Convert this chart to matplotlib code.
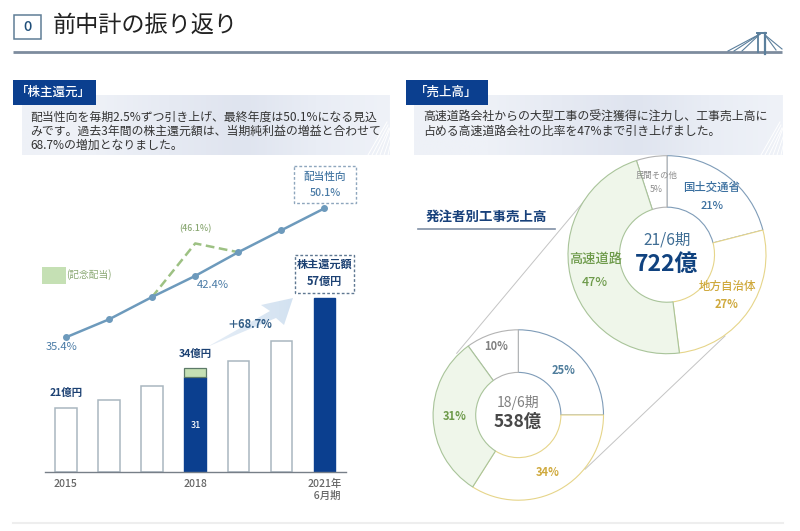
import numpy as np
import matplotlib
matplotlib.use("Agg")
import matplotlib.pyplot as plt
from matplotlib.patches import Rectangle, Polygon
from matplotlib.colors import LinearSegmentedColormap

plt.rcParams['font.family'] = ['Noto Sans CJK JP', 'DejaVu Sans']

# ---- data ----
positions = [0, 1, 2, 3, 4, 5, 6]
tick_pos = [0, 3, 6]
tick_labels = ['2015', '2018', '2021年\n  6月期']
returns_total = [21, 23.4, 28, 34, 36.4, 42.8, 57]
highlight = [False, False, False, True, False, False, True]
base_2018 = 31
special_2018 = 3
payout = [35.4, 37.45, 40.0, 42.4, 45.1, 47.6, 50.1]
special_x = [2, 3, 4]
special_payout = [40.0, 46.1, 45.1]

donut21_values = [21, 27, 47, 5]
donut18_values = [25, 34, 31, 10]

BLUE = '#0b3f8f'
W, H = 800, 531
fig = plt.figure(figsize=(8, 5.31), dpi=100, facecolor='white')


def rect_px(x0, y0, x1, y1):
    return [x0 / W, 1 - y1 / H, (x1 - x0) / W, (y1 - y0) / H]


def overlay(z):
    a = fig.add_axes([0, 0, 1, 1], zorder=z)
    a.set_xlim(0, W)
    a.set_ylim(H, 0)
    a.axis('off')
    a.patch.set_alpha(0)
    return a


bg = overlay(0)
fg = overlay(5)

# ---- header ----
bg.add_patch(Rectangle((14, 15), 27, 24, fc='white', ec='#5f7d96', lw=1.1))
fg.text(27.5, 27, '0', ha='center', va='center', fontsize=10.5, fontweight='medium', color='#1f4e79')
fg.text(53, 25.5, '前中計の振り返り', ha='left', va='center', fontsize=16.7, color='#222222')
bg.plot([13, 782], [52, 52], color='#7d8c9e', lw=2, solid_capstyle='butt')

# bridge icon
bridge = '#5b7f9c'
bg.plot([758, 758], [33, 52], color=bridge, lw=1.3)
bg.plot([765, 765], [33, 54], color=bridge, lw=1.6)
bg.plot([757, 766], [33, 33], color=bridge, lw=1.4)
for x0, y0 in [(728, 51), (734, 51), (742, 51)]:
    bg.plot([x0, 760], [y0, 34], color=bridge, lw=0.8)
for x0, y0 in [(782, 49), (776, 50)]:
    bg.plot([x0, 765], [y0, 35], color=bridge, lw=0.8)

# ---- text panels ----
panel_cmap = LinearSegmentedColormap.from_list(
    'p', ['#eef1f7', '#eef1f7', '#e6eaf3', '#dfe4ef', '#e9edf5', '#eff2f8'])
for x0, x1 in [(22, 390), (414, 783)]:
    grad = np.linspace(0, 1, 256)[None, :]
    bg.imshow(grad, extent=(x0, x1, 155, 95), cmap=panel_cmap, aspect='auto', zorder=1)
    for k in range(6):
        bg.plot([x1 - 22 + k * 4, x1 - 3 + k * 1.0 if k < 3 else x1],
                [155, 122 + k * 3 if k < 3 else 128 + (k - 3) * 9], color='white', lw=0.7, zorder=2)
bg.set_xlim(0, W)
bg.set_ylim(H, 0)

for x0, x1, label in [(13, 96, '「株主還元」'), (406, 488, '「売上高」')]:
    bg.add_patch(Rectangle((x0, 79.5), x1 - x0, 25, fc=BLUE, ec='none', zorder=3))
    fg.text((x0 + x1) / 2 - 1, 92, label, ha='center', va='center', fontsize=9, fontweight='medium', color='white')

left_lines = ['配当性向を毎期2.5%ずつ引き上げ、最終年度は50.1%になる見込',
              'みです。過去3年間の株主還元額は、当期純利益の増益と合わせて',
              '68.7%の増加となりました。']
right_lines = ['高速道路会社からの大型工事の受注獲得に注力し、工事売上高に',
               '占める高速道路会社の比率を47%まで引き上げました。']
for i, t in enumerate(left_lines):
    fg.text(30, 117.5 + i * 14, t, ha='left', va='center', fontsize=8.55, color='#333333')
for i, t in enumerate(right_lines):
    fg.text(423, 117.5 + i * 14, t, ha='left', va='center', fontsize=8.6, color='#333333')

# ---- bars ----
ax_bar = fig.add_axes(rect_px(45, 200, 346, 472), zorder=2)
ax_bar.patch.set_alpha(0)
ax_bar.set_xlim(-0.487, 6.5)
ax_bar.set_ylim(0, 88.9)
bw = 0.5
for p, v, h in zip(positions, returns_total, highlight):
    if not h:
        ax_bar.bar(p, v, width=bw, fc='white', ec='#a9b7c0', lw=1.1, zorder=2)
ax_bar.bar(3, base_2018, width=bw, fc=BLUE, ec='#0b3f8f', lw=1, zorder=2)
ax_bar.bar(3, special_2018, bottom=base_2018, width=bw, fc='#c5e0b4', ec='#5d7a68', lw=0.9, zorder=2)
ax_bar.bar(6, returns_total[6], width=bw, fc=BLUE, ec='#0b3f8f', lw=1, zorder=2)
for s in ['top', 'left', 'right']:
    ax_bar.spines[s].set_visible(False)
ax_bar.spines['bottom'].set_color('#777f88')
ax_bar.spines['bottom'].set_linewidth(1.0)
ax_bar.set_yticks([])
ax_bar.set_xticks(tick_pos)
ax_bar.set_xticklabels(tick_labels, fontsize=7.5, fontweight='medium', color='#666666', linespacing=1.15)
ax_bar.tick_params(axis='x', length=0, pad=5)

# ---- line ----
ax_line = fig.add_axes(rect_px(45, 200, 346, 472), zorder=3)
ax_line.patch.set_alpha(0)
ax_line.set_xlim(-0.487, 6.5)
ax_line.set_ylim(20.05, 51.05)
ax_line.axis('off')
ax_line.plot(special_x, special_payout, color='#9dc183', lw=1.8, ls=(0, (3.5, 1.8)), zorder=2)
ax_line.plot(positions, payout, color='#6d9abc', lw=1.8, marker='o', ms=4, mfc='#6d9abc', mec='#6d9abc', zorder=3)

# ---- growth arrow ----
arrow_cmap = LinearSegmentedColormap.from_list('a', ['#e6eef7', '#d3e2f1'])
poly = Polygon([(207, 347), (270, 311), (261, 305), (293, 298), (284, 325), (276, 318)],
               closed=True, fc='none', ec='none', transform=bg.transData)
bg.add_patch(poly)
aim = bg.imshow(np.linspace(0, 1, 256)[None, :], extent=(207, 293, 347, 298), cmap=arrow_cmap,
                aspect='auto', zorder=3)
aim.set_clip_path(poly)
bg.set_xlim(0, W)
bg.set_ylim(H, 0)

# ---- annotations left ----
blue_t = '#4a7ba6'
navy = '#1c4173'
fg.add_patch(Rectangle((294, 166), 62, 37, fc='white', ec='#8ea6bd', lw=1, ls=(0, (2, 1.5))))
fg.text(325, 177, '配当性向', ha='center', va='center', fontsize=7.7, fontweight='medium', color=blue_t)
fg.text(325, 193, '50.1%', ha='center', va='center', fontsize=7.7, fontweight='medium', color=blue_t)
fg.add_patch(Rectangle((295, 254.5), 59, 38, fc='white', ec='#5f7892', lw=1, ls=(0, (2, 1.5))))
fg.text(324.5, 264, '株主還元額', ha='center', va='center', fontsize=8, fontweight='bold', color=navy)
fg.text(324.5, 282, '57億円', ha='center', va='center', fontsize=8, fontweight='bold', color=navy)
fg.add_patch(Rectangle((42, 267), 24, 17, fc='#c5e0b4', ec='none'))
fg.text(66, 275, '(記念配当)', ha='left', va='center', fontsize=7, color='#8aa873')
fg.text(195, 229, '(46.1%)', ha='center', va='center', fontsize=6.3, fontweight='medium', color='#8aa873')
fg.text(62, 347, '35.4%', ha='center', va='center', fontsize=8, color='#4a7ba6')
fg.text(212.5, 285, '42.4%', ha='center', va='center', fontsize=8, color='#4a7ba6')
fg.text(66, 393, '21億円', ha='center', va='center', fontsize=7.5, fontweight='bold', color=navy)
fg.text(195.5, 353.5, '34億円', ha='center', va='center', fontsize=7.5, fontweight='bold', color=navy)
fg.text(195.5, 425, '31', ha='center', va='center', fontsize=6.5, fontweight='medium', color='white')
fg.text(250, 324, '＋68.7%', ha='center', va='center', fontsize=8, fontweight='bold', color='#2f5b85')
fg.plot([13, 783], [523, 523], color='#eeeeee', lw=1.5)

# ---- connectors ----
bg.plot([456.7, 586.7], [353.3, 198], color='#c4c4c4', lw=0.7, zorder=2)
bg.plot([585, 725], [469.3, 336], color='#c4c4c4', lw=0.7, zorder=2)


# ---- donuts ----
def donut(cx, cy, r, ratio, values):
    m = 1.03
    ax = fig.add_axes(rect_px(cx - r * m, cy - r * m, cx + r * m, cy + r * m), zorder=2)
    edges = ['#7f9cb8', '#e6d58a', '#a9c49a', '#b3b3b3']
    fills = ['white', 'white', '#eff6ea', 'white']
    wedges, _ = ax.pie(values, startangle=90, counterclock=False, radius=1,
                       colors=fills, wedgeprops=dict(width=1 - ratio, linewidth=0.8))
    for w, e in zip(wedges, edges):
        w.set_edgecolor(e)
    wedges[2].set_zorder(wedges[3].get_zorder() + 1)
    ax.set_xlim(-m, m)
    ax.set_ylim(-m, m)
    ax.set_aspect('equal')
    ax.patch.set_alpha(0)
    return ax


donut(667, 254.7, 99, 0.48, donut21_values)
donut(518.3, 415, 85.2, 0.5, donut18_values)

grey = '#8c8c8c'
gold = '#cfa93c'
green = '#6d9a4a'
fg.text(656, 175, '民間その他', ha='center', va='center', fontsize=6, color=grey)
fg.text(656, 190, '5%', ha='center', va='center', fontsize=6.3, color=grey)
fg.text(712, 187, '国土交通省', ha='center', va='center', fontsize=8.2, fontweight='medium', color='#3a6f9f')
fg.text(712, 206, '21%', ha='center', va='center', fontsize=8, fontweight='medium', color='#3a6f9f')
fg.text(727, 286, '地方自治体', ha='center', va='center', fontsize=8.3, fontweight='medium', color=gold)
fg.text(727, 305, '27%', ha='center', va='center', fontsize=8, fontweight='bold', color=gold)
fg.text(595.5, 259, '高速道路', ha='center', va='center', fontsize=9.5, fontweight='medium', color=green)
fg.text(595, 282, '47%', ha='center', va='center', fontsize=9, fontweight='medium', color=green)
fg.text(667, 240, '21/6期', ha='center', va='center', fontsize=11.2, color='#3f6d94')
fg.text(667, 264, '722億', ha='center', va='center', fontsize=16.5, fontweight='bold', color='#10427f')
fg.text(518, 403, '18/6期', ha='center', va='center', fontsize=10, color='#808080')
fg.text(518, 422, '538億', ha='center', va='center', fontsize=12.5, fontweight='bold', color='#484848')
fg.text(564, 370, '25%', ha='center', va='center', fontsize=8, fontweight='bold', color='#4f7d9c')
fg.text(548, 472, '34%', ha='center', va='center', fontsize=8, fontweight='bold', color=gold)
fg.text(455, 416, '31%', ha='center', va='center', fontsize=8, fontweight='bold', color=green)
fg.text(496, 347, '10%', ha='center', va='center', fontsize=8, fontweight='bold', color='#808080')

fg.text(486.5, 217, '発注者別工事売上高', ha='center', va='center', fontsize=9.7, fontweight='bold', color='#17407a')
fg.plot([418, 555], [229, 229], color='#8090a5', lw=1.2)

fig.savefig('out.png', dpi=100, facecolor='white')
